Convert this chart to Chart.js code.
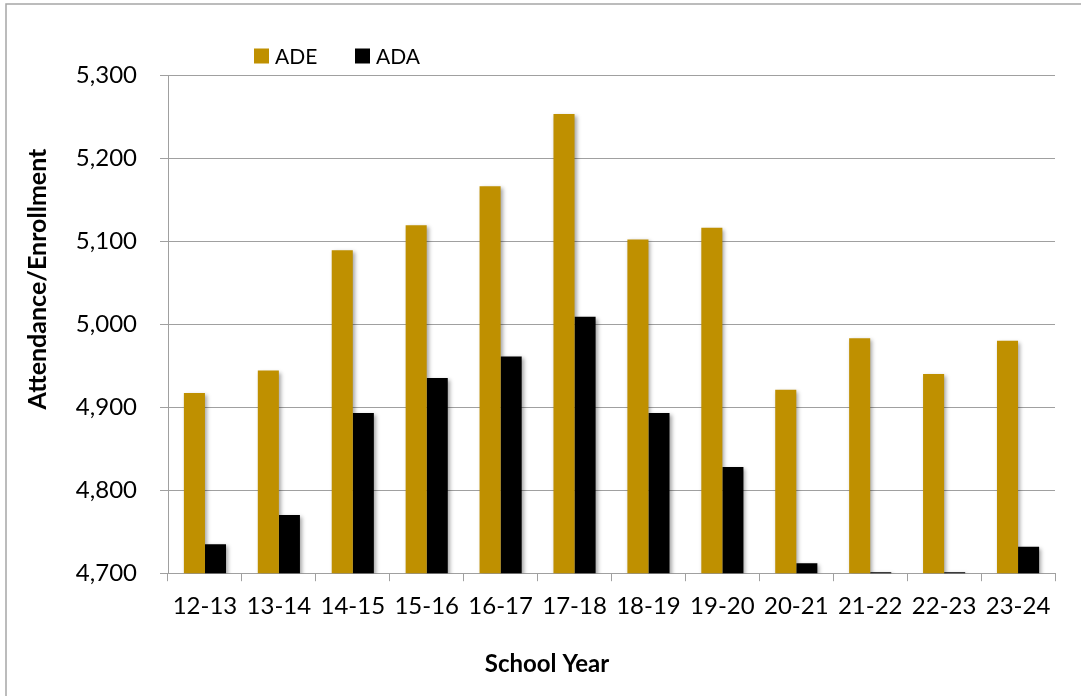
<!DOCTYPE html>
<html>
<head>
<meta charset="utf-8">
<title>ADE / ADA by School Year</title>
<script src="https://cdn.jsdelivr.net/npm/chart.js@4.4.1/dist/chart.umd.min.js"></script>
<style>
  html, body { margin: 0; padding: 0; background: #fff; }
  canvas { display: block; }
</style>
</head>
<body>
<canvas id="chart" width="1081" height="696"></canvas>
<script>
const years = ['12-13', '13-14', '14-15', '15-16', '16-17', '17-18',
               '18-19', '19-20', '20-21', '21-22', '22-23', '23-24'];
const ade = [4917, 4944, 5089, 5119, 5166, 5253, 5102, 5116, 4921, 4983, 4940, 4980];
const ada = [4735, 4770, 4893, 4935, 4961, 5009, 4893, 4828, 4712, 4701, 4701, 4732];

const yMin = 4700;
const yMax = 5300;
const yStep = 100;
const yTitle = 'Attendance/Enrollment';

const gold = '#BF9000';
const gridGray = '#a0a0a0';
const fontFamily = 'Lato, "Open Sans", sans-serif';

Chart.defaults.font.family = fontFamily;
Chart.defaults.color = '#000';

// white page + grey frame (only top / left edges are inside the picture)
const frame = {
  id: 'frame',
  beforeDraw(chart) {
    const c = chart.ctx;
    c.save();
    c.fillStyle = '#fff';
    c.fillRect(0, 0, chart.width, chart.height);
    c.strokeStyle = '#a6a6a6';
    c.lineWidth = 1.5;
    c.beginPath();
    c.moveTo(6, chart.height);
    c.lineTo(6, 4);
    c.lineTo(chart.width, 4);
    c.stroke();
    c.restore();
  }
};

// soft drop shadow like the Excel bars
const barShadow = {
  id: 'barShadow',
  beforeDatasetsDraw(chart) {
    const c = chart.ctx;
    c.save();
    c.shadowColor = 'rgba(0,0,0,0.35)';
    c.shadowBlur = 4;
    c.shadowOffsetX = 2;
    c.shadowOffsetY = 2;
  },
  afterDatasetsDraw(chart) {
    chart.ctx.restore();
  }
};

// legend left of centre above the plot, y title centred on the whole chart
const extras = {
  id: 'extras',
  afterDraw(chart) {
    const c = chart.ctx;
    c.save();
    c.font = '21px ' + fontFamily;
    c.textBaseline = 'middle';
    let x = 254;
    const y = 56;
    chart.data.datasets.forEach(ds => {
      c.fillStyle = ds.backgroundColor;
      c.fillRect(x, y - 7.5, 15, 15);
      c.fillStyle = '#000';
      c.fillText(ds.label, x + 21, y + 1);
      x += 101;
    });

    c.translate(38, 279);
    c.rotate(-Math.PI / 2);
    c.font = 'bold 25px ' + fontFamily;
    c.textAlign = 'center';
    c.fillText(yTitle, 0, 0);
    c.restore();
  }
};

const ctx = document.getElementById('chart');
new Chart(ctx, {
  type: 'bar',
  data: {
    labels: years,
    datasets: [
      { label: 'ADE', data: ade, backgroundColor: gold, borderWidth: 0 },
      { label: 'ADA', data: ada, backgroundColor: '#000', borderWidth: 0 }
    ]
  },
  options: {
    responsive: false,
    animation: false,
    categoryPercentage: 0.57,
    barPercentage: 1.0,
    layout: { padding: { left: 13, right: 0, top: 75, bottom: 0 } },
    plugins: {
      legend: { display: false },
      tooltip: { enabled: false },
      title: {
        display: true,
        position: 'bottom',
        text: 'School Year',
        font: { size: 24, weight: 'bold' },
        padding: { top: 0, bottom: 17 }
      }
    },
    scales: {
      x: {
        grid: { drawOnChartArea: false, drawTicks: true, tickLength: 8, color: gridGray },
        border: { color: gridGray },
        ticks: { font: { size: 24 }, padding: 11, maxRotation: 0 },
        afterFit(s) { s.height = 77; }
      },
      y: {
        min: yMin,
        max: yMax,
        ticks: { stepSize: yStep, font: { size: 24 }, padding: 23 },
        grid: { color: gridGray, tickLength: 8 },
        border: { color: gridGray },
        afterFit(s) { s.width = 155; }
      },
      yPad: {
        position: 'right',
        grid: { display: false },
        ticks: { display: false },
        border: { display: false },
        afterFit(s) { s.width = 26; }
      }
    }
  },
  plugins: [frame, barShadow, extras]
});
</script>
</body>
</html>
